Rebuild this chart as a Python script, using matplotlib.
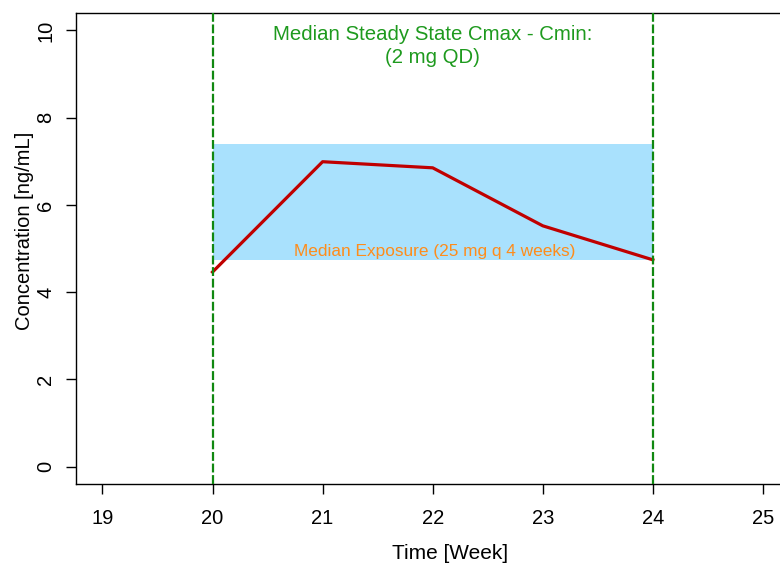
import matplotlib
matplotlib.use("Agg")
import matplotlib.pyplot as plt

plt.rcParams['font.family'] = ['Liberation Sans', 'DejaVu Sans']

weeks = [20, 21, 22, 23, 24]
conc = [4.46, 6.99, 6.85, 5.52, 4.74]
band_low, band_high = 4.74, 7.40
band_x = [20, 24]
vlines_x = [20, 24]
xticks = [19, 20, 21, 22, 23, 24, 25]
yticks = [0, 2, 4, 6, 8, 10]

fig = plt.figure(figsize=(7.8, 5.63), dpi=100)
ax = fig.add_axes([76/780, 1-484/563, (789.4-76)/780, (484-13)/563])

ax.fill_between(band_x, band_low, band_high, color='#A9E1FD', lw=0, zorder=1)
ax.plot(weeks, conc, color='#C00000', lw=2.3, zorder=3)
for xv in vlines_x:
    ax.axvline(xv, color='#118811', lw=1.6, ls=(0, (4, 1.2)), zorder=4)

ax.text(22, 10.13, "Median Steady State Cmax - Cmin:\n(2 mg QD)", color='#1E9A1E',
        ha='center', va='top', fontsize=14.7, linespacing=1.3)
ax.text(22.02, 4.92, "Median Exposure (25 mg q 4 weeks)", color='#FF8C1A',
        ha='center', va='center', fontsize=12.4)

ax.set_xlim(18.76, 25.24)
ax.set_ylim(-0.4, 10.4)
ax.set_xticks(xticks)
ax.set_yticks(yticks)
ax.set_xticklabels([str(t) for t in xticks], fontsize=14.5)
ax.set_yticklabels([str(t) for t in yticks], fontsize=14.5, rotation=90, va='center')
ax.tick_params(axis='x', direction='out', length=7, width=1, pad=11)
ax.tick_params(axis='y', direction='out', length=7, width=1, pad=8)
for s in ax.spines.values():
    s.set_linewidth(1)
ax.set_xlabel("Time [Week]", fontsize=15)
ax.set_ylabel("Concentration [ng/mL]", fontsize=14.5)
ax.xaxis.set_label_coords((450 - 76) / (789.4 - 76), -(559 - 484) / 471, transform=ax.transAxes)
ax.xaxis.label.set_va('baseline')
ax.yaxis.set_label_coords(-(76 - 30) / (789.4 - 76), (484 - 231) / 471, transform=ax.transAxes)
ax.yaxis.label.set_va('baseline')

fig.savefig("out.png", dpi=100)
